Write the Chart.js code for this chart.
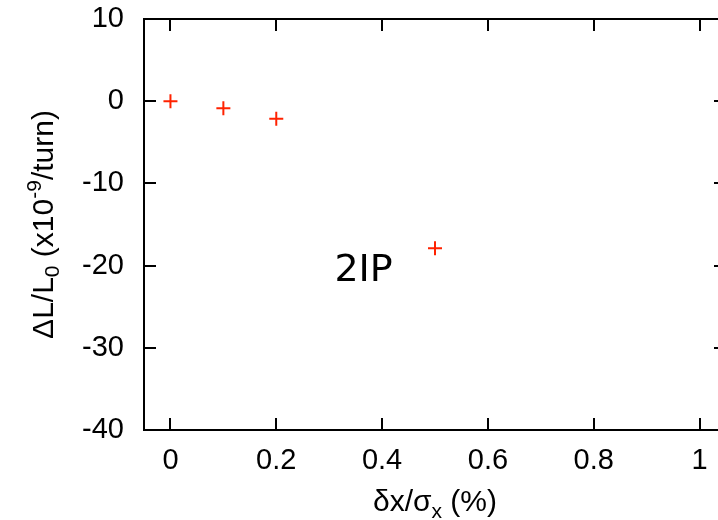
<!DOCTYPE html>
<html>
<head>
<meta charset="utf-8">
<script src="https://cdn.jsdelivr.net/npm/chart.js@4.4.0/dist/chart.umd.min.js"></script>
<style>
  html, body { margin: 0; padding: 0; background: #fff; overflow: hidden; }
  #wrap { width: 760px; height: 520px; }
</style>
</head>
<body>
<div id="wrap"><canvas id="c" width="760" height="520"></canvas></div>
<script>
// offset of the beam (% of sigma_x) and the resulting luminosity change per turn
const shifts = [0, 0.1, 0.2, 0.5];
const lumiLoss = [0.0, -0.85, -2.15, -17.9];

const xTicks = [0, 0.2, 0.4, 0.6, 0.8, 1];
const yTicks = [-40, -30, -20, -10, 0, 10];

const caseLabel = '2IP';
const caseLabelAt = [0.365, -20.7];

const FONT = "'Liberation Sans', Arial, Helvetica, sans-serif";

// draws a line of text made of pieces (normal / sub / sup)
function drawPieces(ctx, pieces, cx, baseY) {
  let total = 0;
  pieces.forEach(p => {
    ctx.font = p.size + 'px ' + FONT;
    p.w = ctx.measureText(p.t).width;
    total += p.w;
  });
  let x = cx - total / 2;
  ctx.textAlign = 'left';
  ctx.textBaseline = 'alphabetic';
  pieces.forEach(p => {
    ctx.font = p.size + 'px ' + FONT;
    ctx.fillText(p.t, x, baseY + (p.dy || 0));
    x += p.w;
  });
}

// box round the plot with small ticks pointing inwards
const frame = {
  id: 'frame',
  beforeDatasetsDraw(chart) {
    const { ctx, chartArea: a, scales } = chart;
    const len = 12;
    ctx.save();
    ctx.strokeStyle = '#000';
    ctx.lineWidth = 2;
    ctx.strokeRect(a.left, a.top, a.right - a.left, a.bottom - a.top);
    ctx.beginPath();
    yTicks.forEach(v => {
      const y = Math.round(scales.y.getPixelForValue(v));
      ctx.moveTo(a.left, y); ctx.lineTo(a.left + len, y);
      ctx.moveTo(a.right, y); ctx.lineTo(a.right - len, y);
    });
    xTicks.forEach(v => {
      const x = Math.round(scales.x.getPixelForValue(v));
      ctx.moveTo(x, a.bottom); ctx.lineTo(x, a.bottom - len);
      ctx.moveTo(x, a.top); ctx.lineTo(x, a.top + len);
    });
    ctx.stroke();
    ctx.restore();
  },
  afterDraw(chart) {
    const { ctx, chartArea: a, scales } = chart;
    ctx.save();
    ctx.fillStyle = '#000';

    // x title: δx/σx (%)
    drawPieces(ctx, [
      { t: 'δx/σ', size: 30 },
      { t: 'x', size: 21, dy: 7 },
      { t: ' (%)', size: 30 }
    ], (a.left + a.right) / 2, 511);

    // y title: ΔL/L0 (x10^-9/turn)
    ctx.save();
    ctx.translate(53, (a.top + a.bottom) / 2);
    ctx.rotate(-Math.PI / 2);
    drawPieces(ctx, [
      { t: 'ΔL/L', size: 30 },
      { t: '0', size: 21, dy: 6 },
      { t: ' (x10', size: 30 },
      { t: '-9', size: 21, dy: -12 },
      { t: '/turn)', size: 30 }
    ], 0, 0);
    ctx.restore();

    // case label inside the plot
    ctx.font = "38px 'DejaVu Sans', sans-serif";
    ctx.textAlign = 'center';
    ctx.textBaseline = 'middle';
    ctx.fillText(caseLabel,
      scales.x.getPixelForValue(caseLabelAt[0]),
      scales.y.getPixelForValue(caseLabelAt[1]));
    ctx.restore();
  }
};

new Chart(document.getElementById('c'), {
  type: 'scatter',
  data: {
    datasets: [{
      data: shifts.map((s, i) => ({ x: s, y: lumiLoss[i] })),
      pointStyle: 'cross',
      radius: 7,
      borderWidth: 2,
      borderColor: '#ff2200',
      backgroundColor: '#ff2200'
    }]
  },
  options: {
    responsive: false,
    animation: false,
    layout: { padding: { top: 19, right: 34, left: 0, bottom: 0 } },
    plugins: { legend: { display: false }, tooltip: { enabled: false } },
    scales: {
      x: {
        type: 'linear',
        min: -0.05,
        max: 1.05,
        grid: { display: false },
        border: { display: false },
        afterBuildTicks: s => { s.ticks = xTicks.map(v => ({ value: v })); },
        afterFit: s => { s.height = 90; s.paddingLeft = 0; s.paddingRight = 0; },
        ticks: {
          color: '#000',
          padding: 6,
          maxRotation: 0,
          font: { family: FONT, size: 29 },
          callback: v => String(v)
        }
      },
      y: {
        min: -40,
        max: 10,
        grid: { display: false },
        border: { display: false },
        afterBuildTicks: s => { s.ticks = yTicks.map(v => ({ value: v })); },
        afterFit: s => { s.width = 144; s.paddingTop = 0; s.paddingBottom = 0; },
        ticks: {
          color: '#000',
          padding: 12,
          font: { family: FONT, size: 29 },
          callback: v => String(v)
        }
      }
    }
  },
  plugins: [frame]
});
</script>
</body>
</html>
